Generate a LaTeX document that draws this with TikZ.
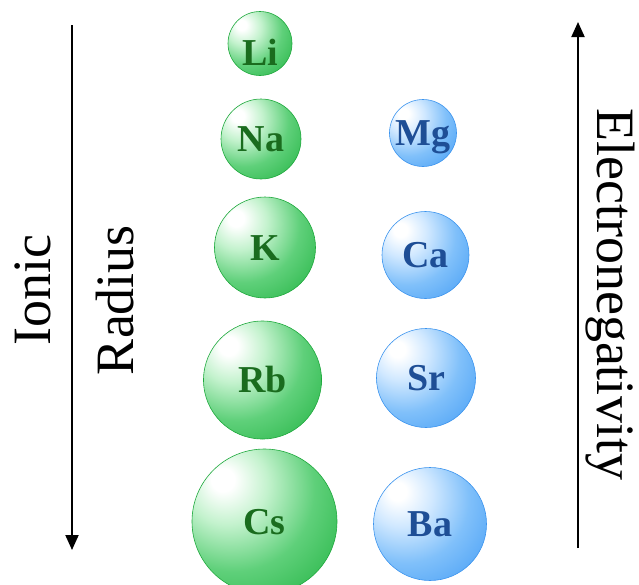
\documentclass[tikz,border=0pt]{standalone}
\usepackage{fontspec}
\setmainfont{Liberation Serif}
\usepackage{tikz}
\usetikzlibrary{arrows.meta,shadings}

\definecolor{grim}{RGB}{36,180,68}
\definecolor{gmid}{RGB}{95,208,122}
\definecolor{glight}{RGB}{195,242,205}
\definecolor{gedge}{RGB}{30,168,60}
\definecolor{gtxt}{RGB}{26,108,30}
\definecolor{brim}{RGB}{70,158,245}
\definecolor{bmid}{RGB}{128,192,250}
\definecolor{blight}{RGB}{208,232,255}
\definecolor{bedge}{RGB}{60,148,238}
\definecolor{btxt}{RGB}{30,78,150}

\pgfdeclareradialshading{greenball}{\pgfpoint{-15bp}{15bp}}{color(0bp)=(white); color(4bp)=(white); color(14bp)=(glight); color(28bp)=(gmid); color(46bp)=(grim); color(100bp)=(grim)}
\pgfdeclareradialshading{blueball}{\pgfpoint{-15bp}{15bp}}{color(0bp)=(white); color(4bp)=(white); color(14bp)=(blight); color(28bp)=(bmid); color(46bp)=(brim); color(100bp)=(brim)}

\begin{document}
\begin{tikzpicture}[
  x=1pt, y=1pt,
  atom/.style={circle, inner sep=0pt, line width=0.6pt, text height=25pt, text depth=0pt,
               font=\bfseries\fontsize{38}{38}\selectfont},
  gball/.style={atom, draw=gedge, shading=greenball, text=gtxt},
  bball/.style={atom, draw=bedge, shading=blueball, text=btxt},
  side/.style={inner sep=0pt, anchor=base, font=\fontsize{54}{54}\selectfont},
  arw/.style={line width=2pt, -{Triangle[width=13pt,length=15pt]}},
]

\useasboundingbox (0,0) rectangle (639,-584);

% --- Group 1 ---
\node[gball, minimum size=64, text height=43pt] (li) at (260,-43.5) {Li};
\node[gball, minimum size=80] (na) at (261,-139) {Na};
\node[gball, minimum size=101] (k) at (265,-247.5) {K};
\node[gball, minimum size=118] (rb) at (262.5,-380) {Rb};
\node[gball, minimum size=145] (cs) at (264.5,-521.5) {Cs};

% --- Group 2 ---
\node[bball, minimum size=67] (mg) at (423,-133) {Mg};
\node[bball, minimum size=87] (ca) at (425.5,-255) {Ca};
\node[bball, minimum size=99] (sr) at (426,-378) {Sr};
\node[bball, minimum size=113] (ba) at (430,-524) {Ba};

% --- Trends ---
\coordinate (radtop) at (72,-25);
\coordinate (radbot) at (72,-550);
\draw[arw] (radtop) -- (radbot);
\node[side, rotate=90] (ionic) at (50,-290) {Ionic};
\node[side, rotate=90] (radius) at (133,-300) {Radius};

\coordinate (enbot) at (578,-548);
\coordinate (entop) at (578,-22);
\draw[arw] (enbot) -- (entop);
\node[side, rotate=-90] (eneg) at (597,-294) {Electronegativity};

\end{tikzpicture}
\end{document}
